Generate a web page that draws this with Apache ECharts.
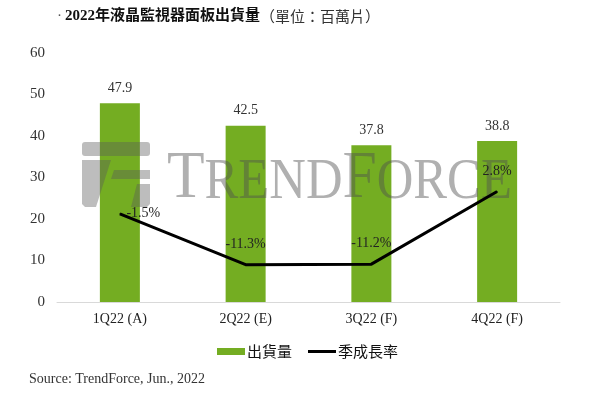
<!DOCTYPE html>
<html>
<head>
<meta charset="utf-8">
<script src="https://cdn.jsdelivr.net/npm/echarts@6/dist/echarts.min.js"></script>
<style>html,body{margin:0;padding:0;background:#fff;}#c{width:600px;height:396px;}</style>
</head>
<body>
<div id="c"></div>
<script>
const categories = ['1Q22 (A)', '2Q22 (E)', '3Q22 (F)', '4Q22 (F)'];
const shipments = [47.9, 42.5, 37.8, 38.8];
const qoqGrowth = [-1.5, -11.3, -11.2, 2.8];
const yTicks = [0, 10, 20, 30, 40, 50, 60];
const seriesNames = ['出貨量', '季成長率'];

const SERIF = "'Liberation Serif', 'Noto Sans CJK TC', serif";
const CJK = "'Noto Sans CJK TC', 'Liberation Serif', sans-serif";
const GREEN = '#74ad22';
const WM = 'rgba(80,80,80,0.45)';
const WM2 = 'rgba(90,90,90,0.4)';

const chart = echarts.init(document.getElementById('c'), null, {renderer: 'canvas'});

const lineData = qoqGrowth.map((v, i) => (i === 0 ? {value: v, label: {position: 'right', distance: 6}} : {value: v}));

chart.setOption({
  animation: false,
  backgroundColor: '#fff',
  title: {
    left: 52, top: 4,
    text: '{dot|·}{b|2022年液晶監視器面板出貨量}{n|（單位：百萬片）}',
    textStyle: {
      fontWeight: 'normal',
      rich: {
        dot: {fontFamily: SERIF, fontWeight: 'normal', fontSize: 15, color: '#555', padding: [0, 3, 0, 0]},
        b: {fontFamily: "'Liberation Serif', 'Noto Sans CJK TC'", fontWeight: 'bold', fontSize: 15, color: '#111'},
        n: {fontFamily: CJK, fontWeight: 'normal', fontSize: 15, color: '#333'}
      }
    }
  },
  grid: {left: 57, right: 40, top: 53, bottom: 94, containLabel: false},
  legend: {
    top: 339, left: 212,
    itemWidth: 28, itemHeight: 7, itemGap: 16,
    textStyle: {fontFamily: CJK, fontSize: 15, color: '#111', padding: [0, 0, 0, -3]},
    data: [
      {name: seriesNames[0], icon: 'rect'},
      {name: seriesNames[1], icon: 'path://M0,0H28V3H0Z'}
    ]
  },
  xAxis: {
    type: 'category', data: categories,
    axisLine: {lineStyle: {color: '#d9d9d9', width: 1}},
    axisTick: {show: false},
    axisLabel: {fontFamily: SERIF, fontSize: 14, color: '#222', margin: 10}
  },
  yAxis: [
    {
      type: 'value', min: yTicks[0], max: yTicks[yTicks.length - 1], interval: yTicks[1] - yTicks[0],
      axisLine: {show: false}, axisTick: {show: false}, splitLine: {show: false},
      axisLabel: {fontFamily: SERIF, fontSize: 15, color: '#333', margin: 12}
    },
    {type: 'value', min: -18.5, max: 29.5, show: false, splitLine: {show: false}}
  ],
  series: [
    {
      name: seriesNames[0], type: 'bar', data: shipments, barWidth: 40,
      itemStyle: {color: GREEN},
      label: {show: true, position: 'top', distance: 8, fontFamily: SERIF, fontSize: 14, color: '#333'},
      z: 2
    },
    {
      name: seriesNames[1], type: 'line', yAxisIndex: 1, data: lineData,
      symbol: 'circle', symbolSize: 1,
      itemStyle: {color: '#000'},
      lineStyle: {color: '#000', width: 3},
      label: {show: true, position: 'top', distance: 13, fontFamily: SERIF, fontSize: 14, color: '#222',
        formatter: p => p.value + '%'},
      z: 5
    }
  ],
  graphic: [
    // watermark logo
    {type: 'rect', shape: {x: 82, y: 142, width: 68, height: 14, r: 3}, style: {fill: WM2}, z: 3, silent: true},
    {type: 'polygon', shape: {points: [[82, 160], [111, 160], [96, 207], [85, 207], [82, 204]]}, style: {fill: WM2}, z: 3, silent: true},
    {type: 'polygon', shape: {points: [[114, 170], [150, 170], [150, 179], [111, 179]]}, style: {fill: WM2}, z: 3, silent: true},
    {type: 'polygon', shape: {points: [[137, 184], [150, 184], [150, 204], [147, 207], [131, 207]]}, style: {fill: WM2}, z: 3, silent: true},
    // watermark text
    {
      type: 'group', x: 167, y: 213, scaleX: 0.905, z: 3, silent: true,
      children: [
        {type: 'text', x: 0, y: 0, style: {text: 'T', font: "68px 'Liberation Serif'", fill: WM, verticalAlign: 'bottom'}, z: 3},
        {type: 'text', x: 41.5, y: -2, style: {text: 'REND', font: "56px 'Liberation Serif'", fill: WM, verticalAlign: 'bottom'}, z: 3},
        {type: 'text', x: 193.9, y: 0, style: {text: 'F', font: "68px 'Liberation Serif'", fill: WM, verticalAlign: 'bottom'}, z: 3},
        {type: 'text', x: 231.7, y: -2, style: {text: 'ORCE', font: "56px 'Liberation Serif'", fill: WM, verticalAlign: 'bottom'}, z: 3}
      ]
    },
    // source
    {type: 'text', left: 29, top: 372, style: {text: 'Source: TrendForce, Jun., 2022', font: "14px 'Liberation Serif'", fill: '#333'}}
  ]
});
</script>
</body>
</html>
